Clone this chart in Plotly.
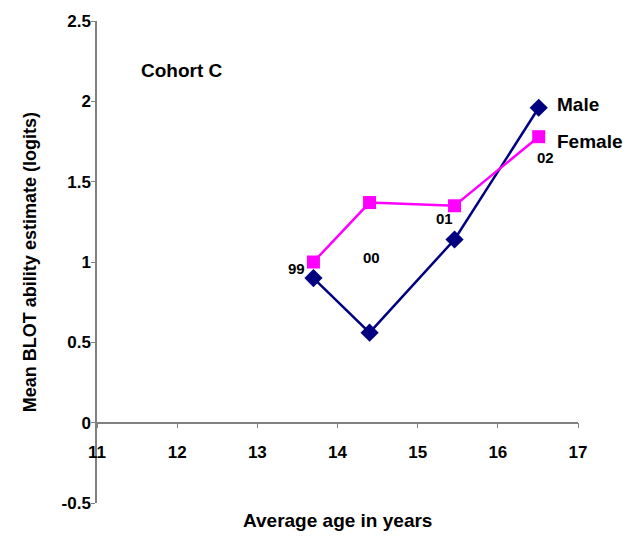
import plotly.graph_objects as go

age = [13.7, 14.4, 15.46, 16.51]
male = [0.90, 0.56, 1.14, 1.96]
female = [1.00, 1.37, 1.35, 1.78]
year_labels = ["99", "00", "01", "02"]
year_label_x = [13.49, 14.43, 15.33, 16.59]
year_label_y = [0.96, 1.03, 1.27, 1.65]
x_ticks = [11, 12, 13, 14, 15, 16, 17]
y_ticks = [-0.5, 0, 0.5, 1, 1.5, 2, 2.5]
y_tick_text = ["-0.5", "0", "0.5", "1", "1.5", "2", "2.5"]

FONT = "Liberation Sans, Arial, sans-serif"
AXC = "#808080"

fig = go.Figure()
fig.add_trace(go.Scatter(x=age, y=male, mode="lines+markers", name="Male",
                         line=dict(color="#000080", width=2.5),
                         marker=dict(symbol="diamond", size=14, color="#000080")))
fig.add_trace(go.Scatter(x=age, y=female, mode="lines+markers", name="Female",
                         line=dict(color="#FF00FF", width=2.5),
                         marker=dict(symbol="square", size=13, color="#FF00FF")))

for t, x, y in zip(year_labels, year_label_x, year_label_y):
    fig.add_annotation(x=x, y=y, text=f"<b>{t}</b>", showarrow=False,
                       font=dict(size=15, color="black", family=FONT))

fig.add_annotation(x=16.71, y=male[-1] + 0.02, text="<b>Male</b>", showarrow=False,
                   xanchor="left", font=dict(size=19, color="black", family=FONT))
fig.add_annotation(x=16.71, y=female[-1] - 0.03, text="<b>Female</b>", showarrow=False,
                   xanchor="left", font=dict(size=19, color="black", family=FONT))
fig.add_annotation(x=11.53, y=2.19, text="<b>Cohort C</b>", showarrow=False,
                   xanchor="left", font=dict(size=19, color="black", family=FONT))

fig.add_annotation(xref="paper", yref="paper", x=0.5, y=-0.037, yanchor="middle",
                   text="<b>Average age in years</b>", showarrow=False,
                   font=dict(size=19, color="black", family=FONT))
fig.add_annotation(xref="paper", yref="paper", x=-0.139, y=0.5, textangle=-90,
                   xanchor="center", yanchor="middle",
                   text="<b>Mean BLOT ability estimate (logits)</b>", showarrow=False,
                   font=dict(size=18, color="black", family=FONT))

fig.update_layout(
    width=629, height=536,
    margin=dict(l=97, r=51, t=18, b=33),
    paper_bgcolor="white", plot_bgcolor="white",
    showlegend=False,
    font=dict(family=FONT, color="black"),
    xaxis=dict(range=[11, 17], tickvals=x_ticks,
               ticktext=[f"<b>{v}</b>" for v in x_ticks],
               showgrid=False, zeroline=False,
               showline=True, linecolor=AXC, linewidth=1.5,
               ticks="outside", ticklen=5, tickcolor=AXC,
               anchor="free", position=0.5 / 3,
               ticklabelstandoff=9,
               tickfont=dict(size=17, family=FONT)),
    yaxis=dict(range=[-0.5, 2.5], tickvals=y_ticks,
               ticktext=[f"<b>{v}</b>" for v in y_tick_text],
               showgrid=False, zeroline=False,
               showline=True, linecolor=AXC, linewidth=1.5,
               ticks="outside", ticklen=4, tickcolor=AXC,
               ticklabelstandoff=-3,
               tickfont=dict(size=17, family=FONT)),
)

fig.write_html("out.html")
